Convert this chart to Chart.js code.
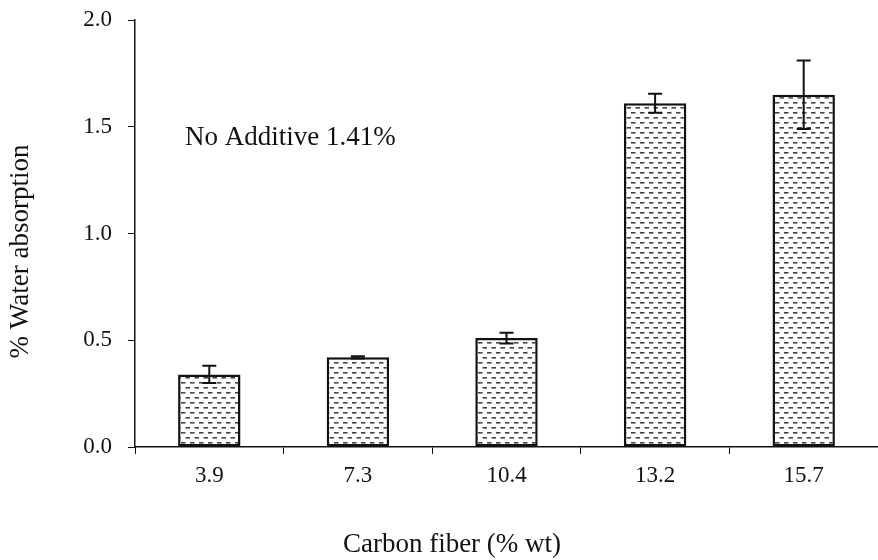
<!DOCTYPE html>
<html>
<head>
<meta charset="utf-8">
<script src="https://cdn.jsdelivr.net/npm/chart.js@4"></script>
<style>
  html, body { margin: 0; padding: 0; background: #fff; }
  #wrap { width: 878px; height: 560px; position: relative; }
</style>
</head>
<body>
<div id="wrap"><canvas id="chart" width="878" height="560"></canvas></div>
<script>
// data
const categories = ["3.9", "7.3", "10.4", "13.2", "15.7"];
const absorption = [0.34, 0.42, 0.51, 1.61, 1.65];
const errors = [0.04, 0.005, 0.025, 0.045, 0.16];
const yTicks = [0.0, 0.5, 1.0, 1.5, 2.0];
const noteText = "No Additive 1.41%";
const xTitle = "Carbon fiber (% wt)";
const yTitle = "% Water absorption";

const serif = "'Liberation Serif', 'DejaVu Serif', serif";

// small dashed fill like the printed hatching
function makePattern() {
  const c = document.createElement("canvas");
  c.width = 9;
  c.height = 10;
  const g = c.getContext("2d");
  g.fillStyle = "#fff";
  g.fillRect(0, 0, 9, 10);
  g.fillStyle = "#444";
  g.fillRect(1, 2, 4.5, 1.6);
  g.fillRect(5.5, 7, 4.5, 1.6);
  g.fillRect(-3.5, 7, 4.5, 1.6);
  return g.createPattern(c, "repeat");
}

// error bars drawn from the errors array through the y scale
const errorBars = {
  id: "errorBars",
  afterDatasetsDraw(chart) {
    const ctx = chart.ctx;
    const meta = chart.getDatasetMeta(0);
    const y = chart.scales.y;
    ctx.save();
    ctx.strokeStyle = "#111";
    ctx.lineWidth = 2;
    meta.data.forEach((bar, i) => {
      const x = bar.x;
      const top = y.getPixelForValue(absorption[i] + errors[i]);
      const bot = y.getPixelForValue(absorption[i] - errors[i]);
      ctx.beginPath();
      ctx.moveTo(x, top);
      ctx.lineTo(x, bot);
      ctx.moveTo(x - 7, top);
      ctx.lineTo(x + 7, top);
      ctx.moveTo(x - 7, bot);
      ctx.lineTo(x + 7, bot);
      ctx.stroke();
    });
    ctx.restore();
  }
};

// the note plus both axis titles (the originals sit off-centre)
const labels = {
  id: "labels",
  afterDraw(chart) {
    const ctx = chart.ctx;
    const a = chart.chartArea;
    ctx.save();
    ctx.font = "27px " + serif;
    ctx.fillStyle = "#111";
    ctx.textBaseline = "middle";
    ctx.fillText(noteText, a.left + 50, chart.scales.y.getPixelForValue(1.45));

    ctx.textAlign = "center";
    ctx.fillText(xTitle, 452, chart.height - 15);

    ctx.translate(21, (a.top + a.bottom) / 2 + 18);
    ctx.rotate(-Math.PI / 2);
    ctx.fillText(yTitle, 0, 0);
    ctx.restore();
  }
};

new Chart(document.getElementById("chart"), {
  type: "bar",
  data: {
    labels: categories,
    datasets: [{
      data: absorption,
      backgroundColor: makePattern(),
      borderColor: "#111",
      borderWidth: 2.5,
      borderSkipped: false,
      barPercentage: 0.42,
      categoryPercentage: 1
    }]
  },
  options: {
    responsive: false,
    animation: false,
    layout: { padding: { top: 20, right: 0, left: 0, bottom: 0 } },
    plugins: {
      legend: { display: false },
      tooltip: { enabled: false }
    },
    scales: {
      x: {
        afterFit: (s) => { s.height = 113; s.paddingLeft = 0; s.paddingRight = 0; },
        grid: {
          offset: true,
          drawOnChartArea: false,
          drawTicks: true,
          tickLength: 7,
          color: "#111",
          lineWidth: 1
        },
        border: { display: true, color: "#111", width: 1.5 },
        ticks: {
          color: "#111",
          padding: 8,
          font: { family: serif, size: 23 }
        }
      },
      y: {
        min: 0,
        max: 2,
        afterFit: (s) => { s.width = 135; s.paddingTop = 0; s.paddingBottom = 0; },
        afterBuildTicks: (s) => { s.ticks = yTicks.map(v => ({ value: v })); },
        grid: {
          drawOnChartArea: false,
          drawTicks: true,
          tickLength: 7,
          color: "#111",
          lineWidth: 1
        },
        border: { display: true, color: "#111", width: 1.5 },
        ticks: {
          color: "#111",
          padding: 16,
          font: { family: serif, size: 23 },
          callback: (v) => Number(v).toFixed(1)
        }
      }
    }
  },
  plugins: [errorBars, labels]
});
</script>
</body>
</html>
